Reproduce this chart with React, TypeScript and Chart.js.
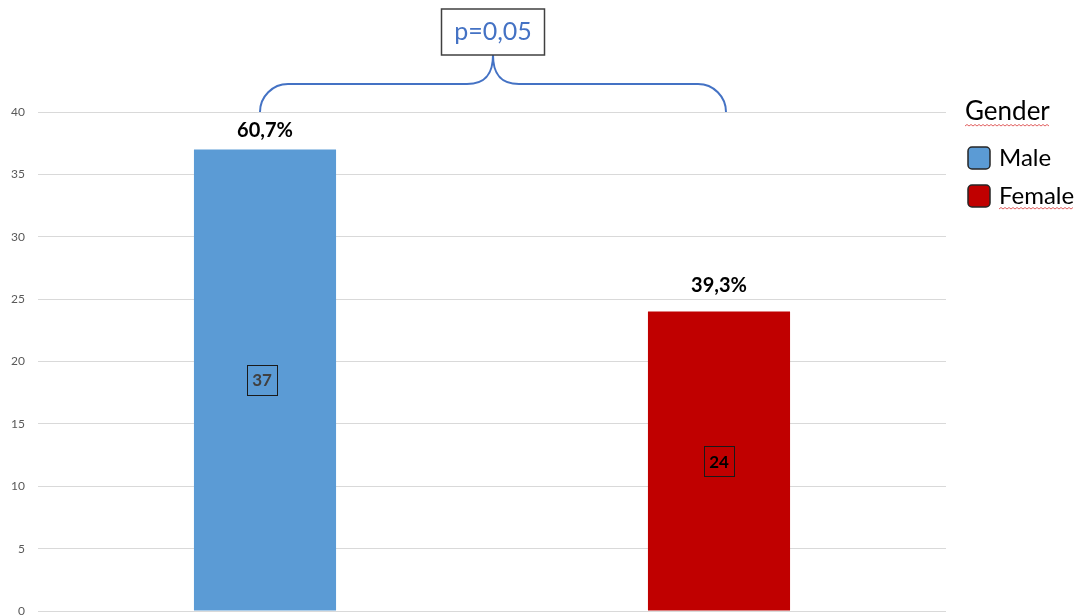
import React, { useEffect, useRef } from "react";
import { Chart, registerables } from "chart.js";

Chart.register(...registerables);

const categories = ["Male", "Female"];
const counts = [37, 24];
const percentLabels = ["60,7%", "39,3%"];
const yTickValues = [0, 5, 10, 15, 20, 25, 30, 35, 40];
const pValueLabel = "p=0,05";
const legendTitle = "Gender";
const barColors = ["#5B9BD5", "#C00000"];
const innerTextColors = ["#404040", "#000000"];

const FONT = "Lato, 'Open Sans', sans-serif";

function wavy(ctx: CanvasRenderingContext2D, x0: number, x1: number, y: number) {
  ctx.save();
  ctx.strokeStyle = "#E06060";
  ctx.lineWidth = 1;
  ctx.beginPath();
  let up = true;
  ctx.moveTo(x0, y);
  for (let x = x0 + 2; x <= x1; x += 2) {
    ctx.lineTo(x, up ? y - 1.5 : y);
    up = !up;
  }
  ctx.stroke();
  ctx.restore();
}

const overlayPlugin = {
  id: "overlay",
  afterDatasetsDraw(chart: any) {
    const ctx: CanvasRenderingContext2D = chart.ctx;
    const meta = chart.getDatasetMeta(0);
    const area = chart.chartArea;
    const pctOffsets = [19, 26];
    ctx.save();
    ctx.textAlign = "center";
    ctx.textBaseline = "middle";
    const xs: number[] = [];
    meta.data.forEach((bar: any, i: number) => {
      const p = bar.getProps(["x", "y", "base"], true);
      xs.push(p.x);
      ctx.font = `bold 20px ${FONT}`;
      ctx.fillStyle = "#000";
      ctx.fillText(percentLabels[i], p.x, p.y - pctOffsets[i]);
      const cy = (p.y + p.base) / 2;
      const bx = p.x - (i === 0 ? 3 : 0);
      ctx.strokeStyle = "#1a1a1a";
      ctx.lineWidth = 1;
      ctx.strokeRect(Math.round(bx - 15) + 0.5, Math.round(cy - 15) + 0.5, 30, 30);
      ctx.font = `bold 17px ${FONT}`;
      ctx.fillStyle = innerTextColors[i];
      ctx.fillText(String(counts[i]), bx, cy + 1);
    });

    // bracket
    const L = xs[0] - 5;
    const R = xs[1] + 7;
    const yb = area.top;
    const yt = yb - 28;
    const r = 28;
    const M = (L + R) / 2;
    const yc = yb - 57;
    ctx.strokeStyle = "#4472C4";
    ctx.lineWidth = 2;
    ctx.beginPath();
    ctx.moveTo(L, yb);
    ctx.arcTo(L, yt, L + r, yt, r);
    ctx.lineTo(M - 26, yt);
    ctx.bezierCurveTo(M - 6, yt, M, yt - 12, M, yc);
    ctx.bezierCurveTo(M, yt - 12, M + 6, yt, M + 26, yt);
    ctx.lineTo(R - r, yt);
    ctx.arcTo(R, yt, R, yb, r);
    ctx.lineTo(R, yb);
    ctx.stroke();

    // p-value box
    const bw = 103;
    const bh = 46;
    ctx.strokeStyle = "#404040";
    ctx.lineWidth = 1.5;
    ctx.strokeRect(M - bw / 2, yc - bh, bw, bh);
    ctx.font = `25px ${FONT}`;
    ctx.fillStyle = "#4472C4";
    ctx.fillText(pValueLabel, M, yc - bh / 2);

    // legend
    const lx = area.right + 19;
    ctx.textAlign = "left";
    ctx.fillStyle = "#000";
    ctx.font = `26px ${FONT}`;
    ctx.fillText(legendTitle, lx, yb);
    const tw = ctx.measureText(legendTitle).width;
    wavy(ctx, lx, lx + tw, yb + 14);
    categories.forEach((c, i) => {
      const cy = yb + 46 + i * 38;
      ctx.fillStyle = barColors[i];
      ctx.strokeStyle = "#262626";
      ctx.lineWidth = 1.5;
      ctx.beginPath();
      (ctx as any).roundRect(lx + 3, cy - 11, 22, 22, 4);
      ctx.fill();
      ctx.stroke();
      ctx.fillStyle = "#000";
      ctx.font = `24px ${FONT}`;
      ctx.fillText(c, lx + 34, cy);
      if (i === 1) {
        const w = ctx.measureText(c).width;
        wavy(ctx, lx + 34, lx + 34 + w, cy + 13);
      }
    });
    ctx.restore();
  },
};

export default function App() {
  const ref = useRef<HTMLCanvasElement>(null);
  useEffect(() => {
    if (!ref.current) return;
    const chart = new Chart(ref.current, {
      type: "bar",
      data: {
        labels: categories,
        datasets: [
          {
            data: counts,
            backgroundColor: barColors,
            borderWidth: 0,
            barPercentage: 0.313,
            categoryPercentage: 1,
          },
        ],
      },
      options: {
        animation: false,
        responsive: false,
        maintainAspectRatio: false,
        layout: { padding: { left: 0, top: 112, right: 136, bottom: 5 } },
        plugins: { legend: { display: false }, tooltip: { enabled: false } },
        scales: {
          x: { display: false },
          y: {
            min: 0,
            max: 40,
            afterFit: (s: any) => {
              s.width = 38;
            },
            afterBuildTicks: (s: any) => {
              s.ticks = yTickValues.map((v) => ({ value: v }));
            },
            border: { display: false },
            grid: {
              color: "#D9D9D9",
              drawTicks: true,
              tickLength: 13,
              tickColor: "rgba(0,0,0,0)",
              lineWidth: 1,
            },
            ticks: {
              padding: 0,
              color: "#595959",
              font: { family: FONT, size: 12, lineHeight: 0.8 },
            },
          },
        },
      },
      plugins: [overlayPlugin],
    });
    return () => chart.destroy();
  }, []);
  return (
    <div style={{ position: "fixed", left: 0, top: 0, width: 1082, height: 616, background: "#fff" }}>
      <canvas ref={ref} width={1082} height={616} style={{ display: "block", width: 1082, height: 616 }} />
    </div>
  );
}
